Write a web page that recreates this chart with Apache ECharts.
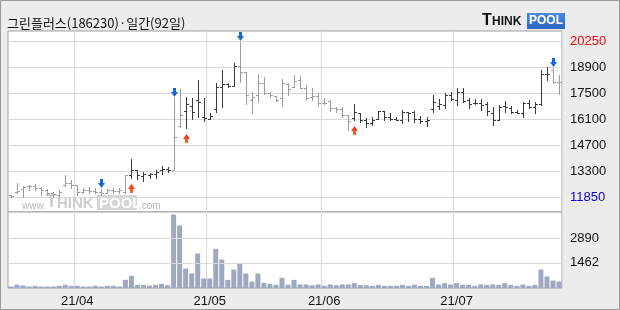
<!DOCTYPE html>
<html><head><meta charset="utf-8">
<script src="https://cdn.jsdelivr.net/npm/echarts@6/dist/echarts.min.js"></script>
<style>html,body{margin:0;padding:0;background:#ececec;}#c{width:620px;height:310px;}</style>
</head><body><div id="c"></div>
<script>
const dates = ['21/03/17','21/03/18','21/03/19','21/03/22','21/03/23','21/03/24','21/03/25','21/03/26','21/03/29','21/03/30','21/03/31',
'21/04/01','21/04/02','21/04/05','21/04/06','21/04/07','21/04/08','21/04/09','21/04/12','21/04/13','21/04/14','21/04/15','21/04/16','21/04/19','21/04/20','21/04/21','21/04/22','21/04/23','21/04/26','21/04/27','21/04/28','21/04/29','21/04/30',
'21/05/03','21/05/04','21/05/06','21/05/07','21/05/10','21/05/11','21/05/12','21/05/13','21/05/14','21/05/17','21/05/18','21/05/20','21/05/21','21/05/24','21/05/25','21/05/26','21/05/27','21/05/28','21/05/31',
'21/06/01','21/06/02','21/06/03','21/06/04','21/06/07','21/06/08','21/06/09','21/06/10','21/06/11','21/06/14','21/06/15','21/06/16','21/06/17','21/06/18','21/06/21','21/06/22','21/06/23','21/06/24','21/06/25','21/06/28','21/06/29','21/06/30',
'21/07/01','21/07/02','21/07/05','21/07/06','21/07/07','21/07/08','21/07/09','21/07/12','21/07/13','21/07/14','21/07/15','21/07/16','21/07/19','21/07/20','21/07/21','21/07/22','21/07/23','21/07/26'];
const open = [11950,12150,12300,12450,12450,12350,12250,12100,12000,12500,
12650,12500,12150,12250,12200,12150,12100,12250,12200,12150,
13050,13320,13000,13050,13100,13300,13400,13320,15700,16500,
16800,17100,16200,16100,16600,17800,17950,17850,18950,18630,
17100,17400,18000,17460,17300,17200,17950,17800,18200,17750,
17250,17300,16950,17050,16650,16600,16300,16150,16380,16000,
15850,16060,16500,16200,16100,16000,16450,16450,16100,15950,
16600,16800,16850,17400,17100,17550,17100,16950,16950,16900,
16400,16000,16800,16650,16450,16400,16950,16750,16900,18500,
18700,18100];
const high = [11990,12600,12460,12510,12550,12390,12280,12150,12240,13050,
12800,12510,12330,12420,12330,12280,12280,12330,12330,13050,
13920,13320,13230,13140,13320,13540,13500,17190,17680,17280,
17190,18180,17190,16380,18000,18720,18000,19080,20250,18630,
17550,18490,18360,17550,17300,18220,18000,18450,18400,17910,
17730,17460,17190,17100,16740,16740,16300,16890,16380,16110,
16170,16530,16530,16420,16200,16560,16470,16530,16240,16170,
17370,17140,17460,17550,17730,17730,17190,17140,17140,16990,
16700,16830,17070,16780,16560,17000,17100,17000,18720,18900,
18810,18450];
const low = [11850,12060,11880,12240,12240,11970,11970,11880,11880,12460,
12330,11970,12060,12060,12060,11970,12060,12060,12060,12060,
12870,12820,12750,12870,12870,13100,13230,13320,15660,15610,
16060,16170,15990,16060,16470,16710,17790,17850,18090,16890,
16380,17000,17430,17280,17070,16780,17370,17790,17730,17100,
17100,16780,16890,16530,16470,16170,15480,16000,15930,15660,
15750,16060,16020,16020,16020,15840,15990,15930,15840,15720,
16470,16600,16650,17100,16830,17000,16650,16890,16560,16290,
15750,16000,16470,16380,16380,16200,16650,16380,16830,18180,
18000,17430];
const close = [11900,12200,12420,12440,12350,12250,12100,12050,12150,12650,
12500,12150,12250,12200,12150,12100,12250,12200,12250,13050,
13320,13050,13100,13100,13230,13400,13320,15090,16300,16900,
16450,17000,16150,16250,17800,17950,17850,18950,18630,17370,
17280,18000,17460,17400,17120,18000,17700,18150,17750,17200,
17300,16950,16950,16650,16600,16300,15950,16450,16050,15850,
16050,16500,16200,16100,16050,16450,16400,16100,15950,16050,
17000,16900,17350,17150,17550,17050,16900,16950,16850,16500,
16000,16750,16700,16450,16400,16950,16750,16900,18500,18500,
18100,18050];
const volume = [87,190,145,87,126,87,87,87,126,190,
126,126,87,87,126,87,126,126,87,474,
706,184,184,145,184,240,164,4263,3625,1131,
841,2001,551,551,2272,1653,474,1073,1460,841,
377,841,300,240,184,590,184,474,203,203,
164,203,126,203,164,203,203,280,164,164,
126,184,126,126,126,184,126,184,126,126,
590,203,280,203,280,184,184,126,203,184,
203,184,280,184,126,203,126,184,1073,667,
435,377];
const sellSignals = [15,27,38,90];
const buySignals = [20,29,57];
const priceTicks = [20250,18850,17450,16050,14650,13250,11850];
const priceTickLabels = ['20250','18900','17500','16100','14700','13300','11850'];
const volumeTicks = [2890,1462];
const volumeTickLabels = ['2890','1462'];

const DARK = '#3a3a3a', GRAY = '#9c9c9c';
const barColors = [];
let state = GRAY;
for (let i = 0; i < dates.length; i++) {
  if (sellSignals.includes(i)) state = GRAY;
  if (buySignals.includes(i)) state = DARK;
  barColors.push(state);
}
const ohlc = dates.map((d, i) => [i, open[i], high[i], low[i], close[i]]);
const arrows = sellSignals.map(i => [i, high[i], 0]).concat(buySignals.map(i => [i, low[i], 1]));
const isMonthStart = (idx) => idx > 0 && dates[idx].slice(0,5) !== dates[idx-1].slice(0,5);

const chart = echarts.init(document.getElementById('c'), null, {renderer:'canvas'});
const labelFont = {fontFamily:'"Liberation Sans Narrow","Liberation Sans",Arial,sans-serif', fontSize:13};
const gridLine = {color:'#d9d9d9', width:1, type:'solid'};

chart.setOption({
  animation:false,
  backgroundColor:'#ececec',
  grid:[
    {left:8, right:58, top:31, height:181, show:true, backgroundColor:'#fff', borderColor:'#a0a0a0', borderWidth:1},
    {left:8, right:58, top:212, height:76, show:true, backgroundColor:'#fff', borderColor:'#a0a0a0', borderWidth:1}
  ],
  xAxis:[
    {type:'category', gridIndex:0, data:dates, boundaryGap:true,
     axisLine:{show:false}, axisTick:{show:false, interval:isMonthStart}, axisLabel:{show:false},
     splitLine:{show:true, interval:isMonthStart, lineStyle:gridLine}},
    {type:'category', gridIndex:1, data:dates, boundaryGap:true,
     axisLine:{show:false}, axisTick:{show:false, interval:isMonthStart},
     axisLabel:Object.assign({show:true, interval:isMonthStart, color:'#111', margin:7, formatter:v=>v.slice(0,5)}, labelFont),
     splitLine:{show:true, interval:isMonthStart, lineStyle:gridLine}}
  ],
  yAxis:[
    {type:'value', gridIndex:0, min:11058, max:20828, position:'right',
     axisLine:{show:false}, axisTick:{show:false}, axisLabel:{show:false}, splitLine:{show:false}},
    {type:'value', gridIndex:1, min:0, max:4408, position:'right',
     axisLine:{show:false}, axisTick:{show:false}, axisLabel:{show:false}, splitLine:{show:false}}
  ],
  graphic:[
    {type:'rect', shape:{x:0.5,y:0.5,width:619,height:309}, style:{fill:'none', stroke:'#9a9a9a', lineWidth:1}, z:100},
    {type:'text', x:7, y:17, style:{text:'그린플러스(186230)·일간(92일)', font:'13px "Noto Sans CJK KR"', fill:'#111'}},
    {type:'text', x:482, y:13, style:{text:'T', font:'bold 16px "Liberation Sans",Arial', fill:'#111'}},
    {type:'text', x:492, y:16, style:{text:'HINK', font:'bold 12px "Liberation Sans",Arial', fill:'#111'}},
    {type:'rect', shape:{x:527,y:13,width:38,height:16}, style:{fill:new echarts.graphic.LinearGradient(0,0,0,1,[{offset:0,color:'#4a8ae0'},{offset:1,color:'#2d68c4'}])}},
    {type:'text', x:529, y:15, style:{text:'POOL', font:'bold 12px "Liberation Sans",Arial', fill:'#fff'}},
    {type:'text', x:22, y:201, z:1, style:{text:'www.', font:'10px "Liberation Sans",Arial', fill:'#b6b6b6'}},
    {type:'text', x:46, y:193, z:1, style:{text:'T', font:'bold 18px "Liberation Sans",Arial', fill:'#cdcdcd'}},
    {type:'text', x:57, y:196, z:1, style:{text:'HINK', font:'bold 15px "Liberation Sans",Arial', fill:'#cdcdcd'}},
    {type:'rect', z:1, shape:{x:97,y:195,width:40,height:15}, style:{fill:'#d6d6d6'}},
    {type:'text', x:99, y:196, z:1, style:{text:'POOL', font:'bold 15px "Liberation Sans",Arial', fill:'#fff'}},
    {type:'text', x:139, y:201, z:1, style:{text:'.com', font:'10px "Liberation Sans",Arial', fill:'#b6b6b6'}}
  ],
  series:[
    {type:'line', xAxisIndex:0, yAxisIndex:0, data:[], z:0,
     markLine:{silent:true, symbol:['none','none'], animation:false, lineStyle:gridLine,
       label:Object.assign({position:'end', distance:8, color:'#111'}, labelFont),
       data:priceTicks.map((v,k)=>({yAxis:v, label:{formatter:priceTickLabels[k], color: k===0?'#ff0000':(k===priceTicks.length-1?'#0000cc':'#111')}}))}},
    {type:'line', xAxisIndex:1, yAxisIndex:1, data:[], z:0,
     markLine:{silent:true, symbol:['none','none'], animation:false, lineStyle:gridLine,
       label:Object.assign({position:'end', distance:8, color:'#111'}, labelFont),
       data:volumeTicks.map((v,k)=>({yAxis:v, label:{formatter:volumeTickLabels[k]}})).concat([{yAxis:0, lineStyle:{opacity:0}, label:{formatter:'x1000', offset:[0,-2]}}])}},
    {type:'bar', xAxisIndex:1, yAxisIndex:1, data:volume, barWidth:5, z:3,
     itemStyle:{color:'#9fa8c1'}},
    {type:'custom', xAxisIndex:0, yAxisIndex:0, data:ohlc, z:5, clip:true,
     encode:{x:0, y:[1,2,3,4]},
     renderItem:function(params, api){
       const i = api.value(0);
       const pO = api.coord([i, api.value(1)]);
       const pH = api.coord([i, api.value(2)]);
       const pL = api.coord([i, api.value(3)]);
       const pC = api.coord([i, api.value(4)]);
       const x = Math.round(pO[0]) + 0.5;
       const yo = Math.round(pO[1]) + 0.5, yc = Math.round(pC[1]) + 0.5;
       const col = barColors[i];
       return {type:'group', children:[
         {type:'line', shape:{x1:x, y1:Math.round(pH[1]), x2:x, y2:Math.round(pL[1])+1}, style:{stroke:col, lineWidth:1}},
         {type:'line', shape:{x1:x-2.5, y1:yo, x2:x, y2:yo}, style:{stroke:col, lineWidth:1}},
         {type:'line', shape:{x1:x, y1:yc, x2:x+2.5, y2:yc}, style:{stroke:col, lineWidth:1}}
       ]};
     }},
    {type:'custom', xAxisIndex:0, yAxisIndex:0, data:arrows, z:6,
     encode:{x:0, y:1},
     renderItem:function(params, api){
       const p = api.coord([api.value(0), api.value(1)]);
       const x = Math.round(p[0]) + 0.5;
       if (api.value(2) === 0) {
         const t = Math.round(p[1]) - 1;
         return {type:'polygon', shape:{points:[[x-1.5,t-9],[x+1.5,t-9],[x+1.5,t-5],[x+3.5,t-5],[x,t],[x-3.5,t-5],[x-1.5,t-5]]},
           style:{fill:'#1565e0'}};
       } else {
         const t = Math.round(p[1]) + 6;
         return {type:'polygon', shape:{points:[[x-1.5,t+9],[x+1.5,t+9],[x+1.5,t+5],[x+3.5,t+5],[x,t],[x-3.5,t+5],[x-1.5,t+5]]},
           style:{fill:new echarts.graphic.LinearGradient(0,0,0,1,[{offset:0,color:'#e83010'},{offset:1,color:'#ff6a2a'}])}};
       }
     }}
  ]
});
</script></body></html>
